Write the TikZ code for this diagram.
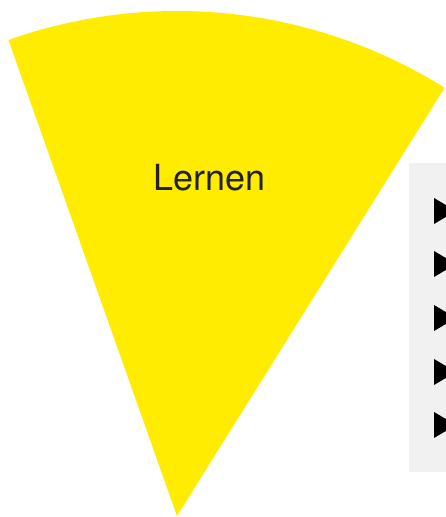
\documentclass[tikz,border=0pt]{standalone}
\usepackage{fontspec}
\setmainfont{TeX Gyre Heros}
\definecolor{wedgeyellow}{HTML}{FFEC00}
\definecolor{panelgray}{HTML}{F1F1F1}
\definecolor{textdark}{HTML}{222222}
\begin{document}
\begin{tikzpicture}[x=1pt,y=1pt,
  bullettri/.style={fill=black},
  wedgelabel/.style={font=\fontsize{36}{40}\selectfont, text=textdark, inner sep=0pt}]
\useasboundingbox (0,0) rectangle (446,517);
\clip (0,0) rectangle (446,517);
% wedge
\coordinate (apex) at (177,1);
\fill[wedgeyellow] (apex) -- ++(58:505) arc[start angle=58, end angle=109.5, radius=505] -- cycle;
\node[wedgelabel] (lbl) at (209.5,339) {Lernen};
% panel
\fill[panelgray] (409,45) rectangle (460,354);
\foreach \yc [count=\i] in {306,253,199,145,92} {
  \fill[bullettri] (434,\yc+13) -- (456,\yc) -- (434,\yc-13) -- cycle;
}
\end{tikzpicture}
\end{document}
